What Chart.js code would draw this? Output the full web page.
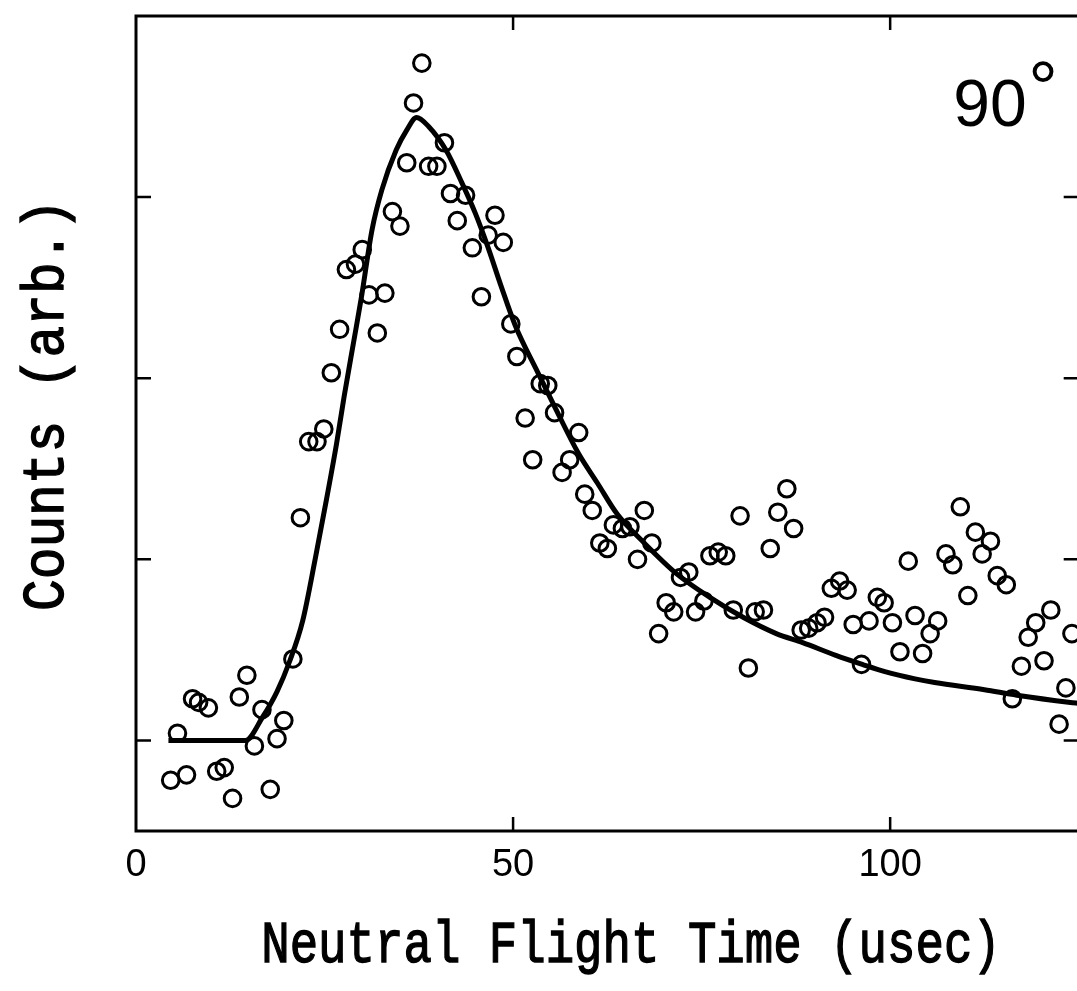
<!DOCTYPE html>
<html>
<head>
<meta charset="utf-8">
<script src="https://cdn.jsdelivr.net/npm/chart.js@4"></script>
<style>
  html, body { margin: 0; padding: 0; background: #fff; overflow: hidden; }
  canvas { display: block; }
</style>
</head>
<body>
<canvas id="tof-chart" width="1090" height="991"></canvas>
<script>
// measured points (flight time in usec, counts in arbitrary units)
var timeUs = [
  4.6, 5.5, 6.7, 7.5, 8.3, 9.6, 10.7, 11.7, 12.8, 13.7, 14.7, 15.7, 16.7, 17.8,
  18.7, 19.6, 20.8, 21.8, 22.9, 24.0, 24.9, 25.9, 27.0, 27.9, 29.1, 30.0, 30.9,
  32.0, 33.0, 34.0, 35.0, 35.9, 36.8, 37.9, 38.8, 39.9, 40.9, 41.7, 42.6, 43.7,
  44.6, 45.8, 46.7, 47.6, 48.7, 49.7, 50.5, 51.6, 52.6, 53.6, 54.6, 55.5, 56.5,
  57.5, 58.7, 59.5, 60.5, 61.5, 62.5, 63.3, 64.5, 65.5, 66.5, 67.4, 68.4, 69.3,
  70.3, 71.3, 72.2, 73.3, 74.2, 75.3, 76.1, 77.2, 78.2, 79.2, 80.1, 81.2, 82.1,
  83.2, 84.1, 85.1, 86.3, 87.2, 88.2, 89.2, 90.3, 91.3, 92.2, 93.3, 94.3, 95.1,
  96.2, 97.2, 98.3, 99.2, 100.3, 101.3, 102.4, 103.3, 104.3, 105.3, 106.3,
  107.4, 108.3, 109.3, 110.3, 111.3, 112.2, 113.3, 114.2, 115.4, 116.2, 117.4,
  118.3, 119.3, 120.4, 121.3, 122.4, 123.3, 124.1,
];
var counts = [
  -0.22, 0.04, -0.19, 0.23, 0.21, 0.18, -0.17, -0.15, -0.32, 0.24, 0.36, -0.03,
  0.17, -0.27, 0.01, 0.11, 0.45, 1.23, 1.65, 1.65, 1.72, 2.03, 2.27, 2.6, 2.63,
  2.71, 2.46, 2.25, 2.47, 2.92, 2.84, 3.19, 3.52, 3.74, 3.17, 3.17, 3.3, 3.02,
  2.87, 3.01, 2.72, 2.45, 2.79, 2.9, 2.75, 2.3, 2.12, 1.78, 1.55, 1.97, 1.96,
  1.81, 1.48, 1.55, 1.7, 1.36, 1.27, 1.09, 1.06, 1.19, 1.17, 1.18, 1.0, 1.27,
  1.09, 0.59, 0.76, 0.71, 0.9, 0.93, 0.71, 0.77, 1.02, 1.04, 1.02, 0.72, 1.24,
  0.4, 0.71, 0.72, 1.06, 1.26, 1.39, 1.17, 0.61, 0.62, 0.65, 0.68, 0.84, 0.88,
  0.83, 0.64, 0.42, 0.66, 0.79, 0.76, 0.65, 0.49, 0.99, 0.69, 0.48, 0.59, 0.66,
  1.03, 0.97, 1.29, 0.8, 1.15, 1.03, 1.1, 0.91, 0.86, 0.23, 0.41, 0.57, 0.65,
  0.44, 0.72, 0.09, 0.29, 0.59,
];

// fitted curve
var fitTime = [
  4.3, 14.5, 16.8, 18.7, 20.4, 22.1, 23.8, 25.3, 26.6, 27.6, 28.9, 29.9, 31.3,
  32.6, 34.5, 35.9, 37.2, 38.8, 41.1, 43.2, 45.0, 46.7, 48.4, 50.3, 53.3, 55.9,
  58.6, 61.2, 63.8, 67.4, 71.7, 76.1, 80.5, 84.9, 88.4, 92.8, 96.3, 99.3, 103.3,
  105.9, 112.5, 116.8, 123.9, 125,
];
var fitCounts = [
  0, 0, 0.13, 0.27, 0.44, 0.66, 1.01, 1.34, 1.64, 1.9, 2.21, 2.45, 2.82, 3.04,
  3.26, 3.37, 3.44, 3.39, 3.26, 3.08, 2.91, 2.72, 2.51, 2.29, 2.03, 1.81, 1.59,
  1.42, 1.25, 1.09, 0.92, 0.79, 0.68, 0.59, 0.54, 0.47, 0.42, 0.38, 0.34, 0.32,
  0.28, 0.25, 0.21, 0.205,
];

var xTicks = [0, 50, 100];
var yTicks = [0, 1, 2, 3];
var xTitle = "Neutral Flight Time (usec)";
var yTitle = "Counts (arb.)";
var angleLabel = "90";

const ctx = document.getElementById("tof-chart");

// frame, inward ticks, axis titles, angle label
const framePlugin = {
  id: "frame",
  afterDraw(chart) {
    const c = chart.ctx;
    const a = chart.chartArea;
    const xs = chart.scales.x;
    const ys = chart.scales.y;
    c.save();
    c.strokeStyle = "#000";
    c.lineWidth = 3;
    c.strokeRect(a.left, a.top, a.right - a.left, a.bottom - a.top);
    c.lineWidth = 2.5;
    c.beginPath();
    yTicks.forEach((v) => {
      const py = ys.getPixelForValue(v);
      c.moveTo(a.left, py);
      c.lineTo(a.left + 15, py);
      c.moveTo(a.right, py);
      c.lineTo(a.right - 15, py);
    });
    xTicks.forEach((v) => {
      if (v === 0) return;
      const px = xs.getPixelForValue(v);
      c.moveTo(px, a.bottom);
      c.lineTo(px, a.bottom - 14);
      c.moveTo(px, a.top);
      c.lineTo(px, a.top + 14);
    });
    c.stroke();

    c.fillStyle = "#000";
    c.textAlign = "center";
    c.textBaseline = "alphabetic";
    c.lineWidth = 1.4;
    c.font = '60px "Liberation Mono"';
    c.save();
    c.translate(631, 962);
    c.scale(0.79, 1);
    c.fillText(xTitle, 0, 0);
    c.strokeText(xTitle, 0, 0);
    c.restore();
    c.save();
    c.translate(63, 405);
    c.rotate(-Math.PI / 2);
    c.scale(0.88, 1);
    c.fillText(yTitle, 0, 0);
    c.strokeText(yTitle, 0, 0);
    c.restore();

    c.font = '66px "Liberation Sans"';
    c.fillText(angleLabel, 990, 126);
    c.font = '74px "Liberation Sans"';
    c.fillText("\u00b0", 1043, 113);
    c.restore();
  },
};

const myChart = new Chart(ctx, {
  type: "scatter",
  data: {
    datasets: [
      {
        label: "data",
        data: timeUs.map((t, i) => ({ x: t, y: counts[i] })),
        pointStyle: "circle",
        pointRadius: 8.3,
        borderWidth: 3,
        pointBorderWidth: 3,
        pointBorderColor: "#000",
        pointBackgroundColor: "rgba(0,0,0,0)",
        showLine: false,
      },
      {
        label: "fit",
        data: fitTime.map((t, i) => ({ x: t, y: fitCounts[i] })),
        showLine: true,
        borderColor: "#000",
        borderWidth: 5,
        pointRadius: 0,
        cubicInterpolationMode: "monotone",
      },
    ],
  },
  options: {
    responsive: false,
    animation: false,
    layout: { padding: { top: 16, right: 5, left: 0, bottom: 0 } },
    plugins: {
      legend: { display: false },
      tooltip: { enabled: false },
    },
    scales: {
      x: {
        type: "linear",
        min: 0,
        max: 125,
        grid: { display: false, drawTicks: false },
        border: { display: false },
        afterBuildTicks: (axis) => {
          axis.ticks = xTicks.map((v) => ({ value: v }));
        },
        afterFit: (axis) => {
          axis.height = 160;
        },
        ticks: {
          padding: 12,
          color: "#000",
          maxRotation: 0,
          font: { family: "'Liberation Sans'", size: 38 },
        },
      },
      y: {
        type: "linear",
        min: -0.5,
        max: 4,
        grid: { display: false, drawTicks: false },
        border: { display: false },
        ticks: { display: false },
        afterFit: (axis) => {
          axis.width = 136;
        },
      },
    },
  },
  plugins: [framePlugin],
});
</script>
</body>
</html>
